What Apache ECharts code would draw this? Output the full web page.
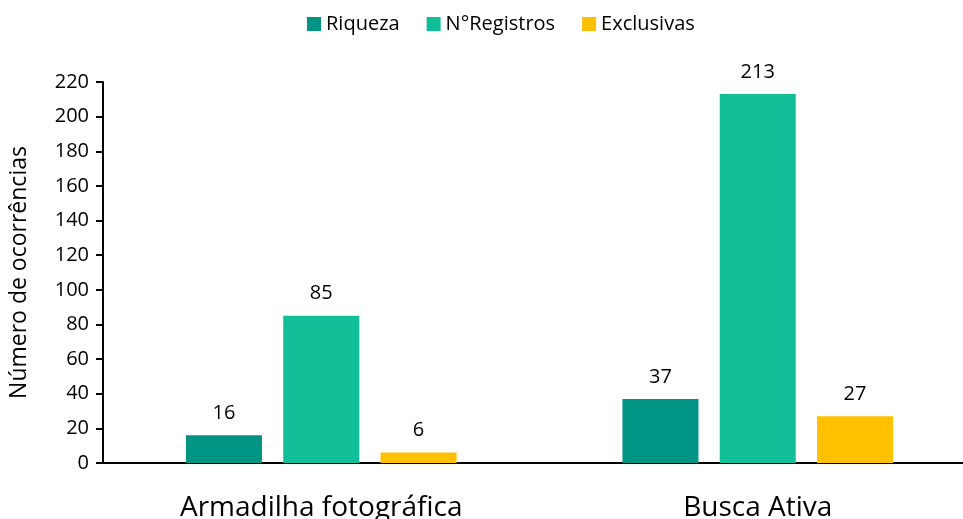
<!DOCTYPE html>
<html>
<head>
<meta charset="utf-8">
<script src="https://cdn.jsdelivr.net/npm/echarts@6/dist/echarts.min.js"></script>
<style>
  html, body { margin: 0; padding: 0; background: #fff; overflow: hidden; }
  #chart { width: 990px; height: 519px; }
</style>
</head>
<body>
<div id="chart"></div>
<script>
const categories = ['Armadilha fotográfica', 'Busca Ativa'];
const riqueza = [16, 37];
const registros = [85, 213];
const exclusivas = [6, 27];
const seriesNames = ['Riqueza', 'N°Registros', 'Exclusivas'];
const colors = ['#009485', '#10BE98', '#FFC000'];

const chart = echarts.init(document.getElementById('chart'));
const font = '"Open Sans", sans-serif';

const label = {
  show: true,
  position: 'top',
  distance: 12,
  fontSize: 20,
  color: '#000',
  fontFamily: font
};

chart.setOption({
  animation: false,
  textStyle: { fontFamily: font },
  legend: {
    top: 9,
    left: 302,
    itemWidth: 14,
    itemHeight: 14,
    itemGap: 27,
    icon: 'rect',
    textStyle: { fontSize: 20, color: '#000', fontFamily: font },
    data: seriesNames
  },
  grid: { left: 103, top: 82, width: 873, bottom: 56, outerBoundsMode: 'none', containLabel: false },
  xAxis: {
    type: 'category',
    data: categories,
    axisLine: { lineStyle: { color: '#000', width: 2 } },
    axisTick: { show: false },
    axisLabel: { fontSize: 28, color: '#000', margin: 31, fontFamily: font }
  },
  yAxis: {
    type: 'value',
    min: 0,
    max: 220,
    interval: 20,
    name: 'Número de ocorrências',
    nameLocation: 'middle',
    nameGap: 72,
    nameTextStyle: { fontSize: 23, color: '#000', fontFamily: font },
    axisLine: { show: true, lineStyle: { color: '#000', width: 2 } },
    axisTick: { show: true, length: 7, lineStyle: { color: '#000', width: 2 } },
    axisLabel: { fontSize: 20, color: '#000', margin: 14, fontFamily: font },
    splitLine: { show: false }
  },
  series: [
    { name: seriesNames[0], type: 'bar', data: riqueza, itemStyle: { color: colors[0] }, label, barGap: '28%', barCategoryGap: '38%' },
    { name: seriesNames[1], type: 'bar', data: registros, itemStyle: { color: colors[1] }, label },
    { name: seriesNames[2], type: 'bar', data: exclusivas, itemStyle: { color: colors[2] }, label }
  ]
});
</script>
</body>
</html>
